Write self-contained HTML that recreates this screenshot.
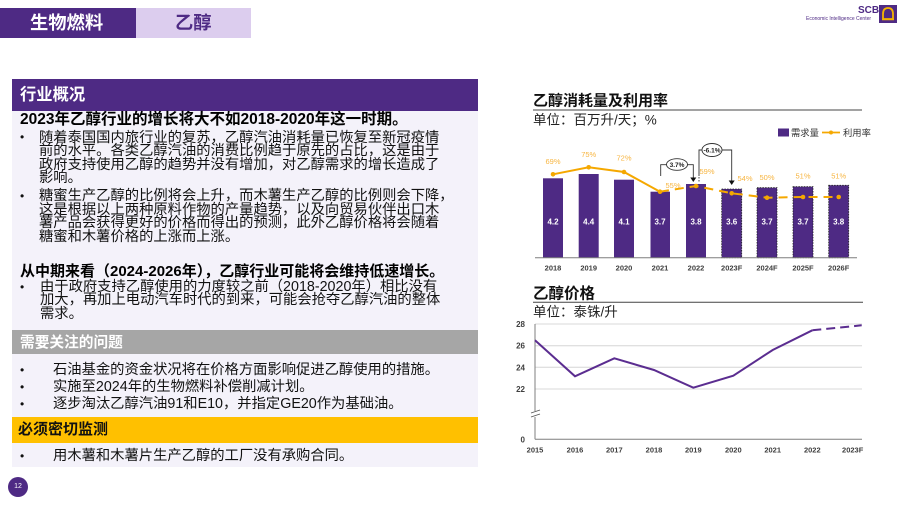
<!DOCTYPE html>
<html><head><meta charset="utf-8">
<style>
*{margin:0;padding:0;box-sizing:border-box}
html,body{width:903px;height:506px;overflow:hidden;background:#fff}
body{position:relative;font-family:"Liberation Sans","Noto Sans CJK SC",sans-serif;color:#111}
.a{position:absolute;white-space:nowrap}
.ln{position:absolute;white-space:nowrap;font-size:14.3px;line-height:14px;height:14px;color:#111}
.bt{position:absolute;white-space:nowrap;font-weight:bold;line-height:16px;height:16px;color:#000}
.dot{position:absolute;font-size:12px;line-height:14px;height:14px;left:20px}
</style></head><body>
<!-- header tabs -->
<div class="a" style="left:0;top:8px;width:136px;height:30px;background:#4e2a84"></div>
<div class="a" style="left:136px;top:8px;width:115px;height:30px;background:#dccdee"></div>
<div class="a" style="left:30px;top:12px;font-size:18.3px;line-height:22px;font-weight:bold;color:#fff">生物燃料</div>
<div class="a" style="left:175px;top:12px;font-size:18.3px;line-height:22px;font-weight:bold;color:#4e2a84">乙醇</div>

<!-- logo -->
<div class="a" style="left:858px;top:5px;font-size:10px;line-height:12px;font-weight:bold;color:#4e2a84">SCB</div>
<div class="a" style="left:806px;top:16px;font-size:5px;line-height:6px;color:#4e2a84">Economic Intelligence Center</div>
<svg class="a" style="left:879px;top:5px" width="18" height="18" viewBox="0 0 18 18">
<rect width="18" height="18" fill="#4e2a84"/>
<path d="M4 14 L4 9 Q4 3 9 3 Q14 3 14 9 L14 14 Z" fill="none" stroke="#f5b400" stroke-width="1.8"/>
<line x1="3" y1="14.5" x2="15" y2="14.5" stroke="#f5b400" stroke-width="1.5"/>
</svg>

<!-- left panel -->
<div class="a" style="left:12px;top:79px;width:466px;height:32px;background:#4e2a84"></div>
<div class="a" style="left:20px;top:85px;font-size:16.3px;line-height:20px;font-weight:bold;color:#fff">行业概况</div>
<div class="a" style="left:12px;top:111px;width:466px;height:219px;background:#f4f2fa"></div>
<div class="a" style="left:12px;top:330px;width:466px;height:24px;background:#a6a6a6"></div>
<div class="a" style="left:20px;top:334px;font-size:14.7px;line-height:18px;font-weight:bold;color:#fff">需要关注的问题</div>
<div class="a" style="left:12px;top:354px;width:466px;height:63px;background:#f4f2fa"></div>
<div class="a" style="left:12px;top:417px;width:466px;height:26px;background:#ffc000"></div>
<div class="a" style="left:18px;top:421px;font-size:15px;line-height:18px;font-weight:bold;color:#111">必须密切监测</div>
<div class="a" style="left:12px;top:443px;width:466px;height:24px;background:#f4f2fa"></div>

<div class="bt" style="left:20px;top:112px;font-size:15.5px">2023年乙醇行业的增长将大不如2018-2020年这一时期。</div>
<div class="dot" style="top:130px">•</div>
<div class="ln" style="left:39px;top:130.5px">随着泰国国内旅行业的复苏，乙醇汽油消耗量已恢复至新冠疫情</div>
<div class="ln" style="left:39px;top:144px">前的水平。各类乙醇汽油的消费比例趋于原先的占比，这是由于</div>
<div class="ln" style="left:39px;top:157.5px">政府支持使用乙醇的趋势并没有增加，对乙醇需求的增长造成了</div>
<div class="ln" style="left:39px;top:171px">影响。</div>
<div class="dot" style="top:189px">•</div>
<div class="ln" style="left:39px;top:189px">糖蜜生产乙醇的比例将会上升，而木薯生产乙醇的比例则会下降，</div>
<div class="ln" style="left:39px;top:202.5px">这是根据以上两种原料作物的产量趋势，以及向贸易伙伴出口木</div>
<div class="ln" style="left:39px;top:216px">薯产品会获得更好的价格而得出的预测，此外乙醇价格将会随着</div>
<div class="ln" style="left:39px;top:229.5px">糖蜜和木薯价格的上涨而上涨。</div>

<div class="bt" style="left:20px;top:263.5px;font-size:15px">从中期来看（2024-2026年），乙醇行业可能将会维持低速增长。</div>
<div class="dot" style="top:279.5px">•</div>
<div class="ln" style="left:40px;top:279.5px">由于政府支持乙醇使用的力度较之前（2018-2020年）相比没有</div>
<div class="ln" style="left:40px;top:293px">加大，再加上电动汽车时代的到来，可能会抢夺乙醇汽油的整体</div>
<div class="ln" style="left:40px;top:306.5px">需求。</div>

<div class="dot" style="top:362.5px">•</div>
<div class="ln" style="left:53px;top:362.5px">石油基金的资金状况将在价格方面影响促进乙醇使用的措施。</div>
<div class="dot" style="top:379.5px">•</div>
<div class="ln" style="left:53px;top:379.5px">实施至2024年的生物燃料补偿削减计划。</div>
<div class="dot" style="top:396.5px">•</div>
<div class="ln" style="left:53px;top:396.5px">逐步淘汰乙醇汽油91和E10，并指定GE20作为基础油。</div>
<div class="dot" style="top:449px">•</div>
<div class="ln" style="left:53px;top:449px">用木薯和木薯片生产乙醇的工厂没有承购合同。</div>

<!-- page number -->
<div class="a" style="left:8px;top:477px;width:20px;height:20px;border-radius:50%;background:#4e2a84;color:#fff;font-size:7px;line-height:20px;text-align:center">12</div>

<!-- charts -->
<svg class="a" style="left:0;top:0" width="903" height="506" viewBox="0 0 903 506" font-family="Liberation Sans, Noto Sans CJK SC, sans-serif">
<!-- chart 1 titles -->
<text x="533" y="105.5" font-size="15" font-weight="bold" fill="#111">乙醇消耗量及利用率</text>
<line x1="533" y1="110" x2="862" y2="110" stroke="#444" stroke-width="1"/>
<text x="533" y="124.3" font-size="13.5" fill="#222">单位：百万升/天；%</text>
<!-- legend -->
<rect x="778" y="128.5" width="11" height="8" fill="#4e2a84"/>
<text x="791" y="136" font-size="9.3" fill="#333">需求量</text>
<line x1="822" y1="132.5" x2="840" y2="132.5" stroke="#f5a800" stroke-width="1.8"/>
<circle cx="831" cy="132.5" r="2" fill="#f5a800"/>
<text x="843" y="136" font-size="9.3" fill="#333">利用率</text>
<!-- bars -->
<g fill="#4e2a84">
<rect x="543" y="178.3" width="20" height="79.4"/>
<rect x="578.7" y="174" width="20" height="83.7"/>
<rect x="614" y="179.7" width="20" height="78"/>
<rect x="650.5" y="191.7" width="19.5" height="66"/>
<rect x="686" y="184" width="20" height="73.7"/>
<rect x="721.7" y="189" width="20" height="68.7" stroke="#222" stroke-width="0.8" stroke-dasharray="1.5,1.2"/>
<rect x="757" y="187.7" width="20" height="70" stroke="#222" stroke-width="0.8" stroke-dasharray="1.5,1.2"/>
<rect x="793" y="186.7" width="20" height="71" stroke="#222" stroke-width="0.8" stroke-dasharray="1.5,1.2"/>
<rect x="828.7" y="185.3" width="20" height="72.4" stroke="#222" stroke-width="0.8" stroke-dasharray="1.5,1.2"/>
</g>
<line x1="535" y1="257.7" x2="857" y2="257.7" stroke="#7f7f7f" stroke-width="1"/>
<g font-size="8" fill="#fff" text-anchor="middle" font-weight="bold">
<text x="553" y="224.5">4.2</text><text x="588.7" y="224.5">4.4</text><text x="624" y="224.5">4.1</text>
<text x="660" y="224.5">3.7</text><text x="696" y="224.5">3.8</text><text x="731.7" y="224.5">3.6</text>
<text x="767" y="224.5">3.7</text><text x="803" y="224.5">3.7</text><text x="838.7" y="224.5">3.8</text>
</g>
<g font-size="7.5" fill="#404040" text-anchor="middle" font-weight="bold">
<text x="553" y="270.5">2018</text><text x="588.7" y="270.5">2019</text><text x="624" y="270.5">2020</text>
<text x="660" y="270.5">2021</text><text x="696" y="270.5">2022</text><text x="731.7" y="270.5">2023F</text>
<text x="767" y="270.5">2024F</text><text x="803" y="270.5">2025F</text><text x="838.7" y="270.5">2026F</text>
</g>
<!-- utilisation line -->
<polyline points="553,174.3 588.7,167.3 624,172 660,191.7" fill="none" stroke="#f5a800" stroke-width="2"/>
<polyline points="660,191.7 696,186 731.7,193.3 767,197.7 803,197 838.7,197" fill="none" stroke="#f5a800" stroke-width="2" stroke-dasharray="9,6"/>
<g fill="#f5a800">
<circle cx="553" cy="174.3" r="2.3"/><circle cx="588.7" cy="167.3" r="2.3"/><circle cx="624" cy="172" r="2.3"/>
<circle cx="660" cy="191.7" r="2.3"/><circle cx="696" cy="186" r="2.3"/><circle cx="731.7" cy="193.3" r="2.3"/>
<circle cx="767" cy="197.7" r="2.3"/><circle cx="803" cy="197" r="2.3"/><circle cx="838.7" cy="197" r="2.3"/>
</g>
<g font-size="7.5" fill="#f7b541" text-anchor="middle">
<text x="553" y="164">69%</text><text x="588.7" y="157">75%</text><text x="624" y="160.5">72%</text>
<text x="673" y="188">55%</text><text x="707" y="174">59%</text><text x="745" y="181">54%</text>
<text x="767" y="180">50%</text><text x="803" y="178.5">51%</text><text x="838.7" y="178.5">51%</text>
</g>
<!-- annotations -->
<polyline points="660.7,176 660.7,164.7 693.3,164.7 693.3,178" fill="none" stroke="#333" stroke-width="0.9"/>
<path d="M690.3,177.5 L696.3,177.5 L693.3,182 Z" fill="#111"/>
<ellipse cx="677" cy="164.5" rx="10.5" ry="5.8" fill="#fff" stroke="#333" stroke-width="0.9"/>
<text x="677" y="167" font-size="6.5" font-weight="bold" text-anchor="middle" fill="#222">3.7%</text>
<polyline points="699,176 699,150 731.7,150 731.7,181" fill="none" stroke="#333" stroke-width="0.9"/>
<line x1="699" y1="177" x2="699" y2="183" stroke="#333" stroke-width="0.9" stroke-dasharray="1.5,1.5"/>
<path d="M728.7,180.5 L734.7,180.5 L731.7,185 Z" fill="#111"/>
<ellipse cx="712" cy="150" rx="10" ry="6.5" fill="#fff" stroke="#333" stroke-width="0.9"/>
<text x="712" y="152.5" font-size="6.5" font-weight="bold" text-anchor="middle" fill="#222">-6.1%</text>

<!-- chart 2 -->
<text x="533" y="298.5" font-size="15.5" font-weight="bold" fill="#111">乙醇价格</text>
<line x1="533" y1="302.3" x2="863" y2="302.3" stroke="#444" stroke-width="1"/>
<text x="533" y="316.5" font-size="13.5" fill="#222">单位：泰铢/升</text>
<g stroke="#e0e0e0" stroke-width="1.3">
<line x1="535" y1="324" x2="862" y2="324"/>
<line x1="535" y1="345.7" x2="862" y2="345.7"/>
<line x1="535" y1="367.3" x2="862" y2="367.3"/>
<line x1="535" y1="389" x2="862" y2="389"/>
</g>
<line x1="535" y1="324" x2="535" y2="411" stroke="#7f7f7f" stroke-width="1"/>
<line x1="535" y1="417" x2="535" y2="439.3" stroke="#7f7f7f" stroke-width="1"/>
<line x1="531" y1="413" x2="540" y2="410" stroke="#555" stroke-width="0.9"/>
<line x1="531" y1="417" x2="540" y2="414" stroke="#555" stroke-width="0.9"/>
<line x1="535" y1="439.3" x2="862" y2="439.3" stroke="#7f7f7f" stroke-width="1"/>
<g font-size="8" fill="#404040" text-anchor="end" font-weight="bold">
<text x="525" y="327">28</text><text x="525" y="348.7">26</text><text x="525" y="370.3">24</text>
<text x="525" y="392">22</text><text x="525" y="442.3">0</text>
</g>
<g font-size="7.5" fill="#404040" text-anchor="middle" font-weight="bold">
<text x="535" y="452.5">2015</text><text x="575" y="452.5">2016</text><text x="614.3" y="452.5">2017</text>
<text x="654" y="452.5">2018</text><text x="693.3" y="452.5">2019</text><text x="733.3" y="452.5">2020</text>
<text x="772.7" y="452.5">2021</text><text x="812.3" y="452.5">2022</text><text x="852.7" y="452.5">2023F</text>
</g>
<polyline points="535,340.3 575,376.3 614.3,358.3 654,370 693.3,387.7 733.3,375.7 772.7,350 812.3,330.3" fill="none" stroke="#5b2d90" stroke-width="2"/>
<polyline points="812.3,330.3 861.7,325.3" fill="none" stroke="#5b2d90" stroke-width="2" stroke-dasharray="9,5"/>
</svg>
</body></html>
